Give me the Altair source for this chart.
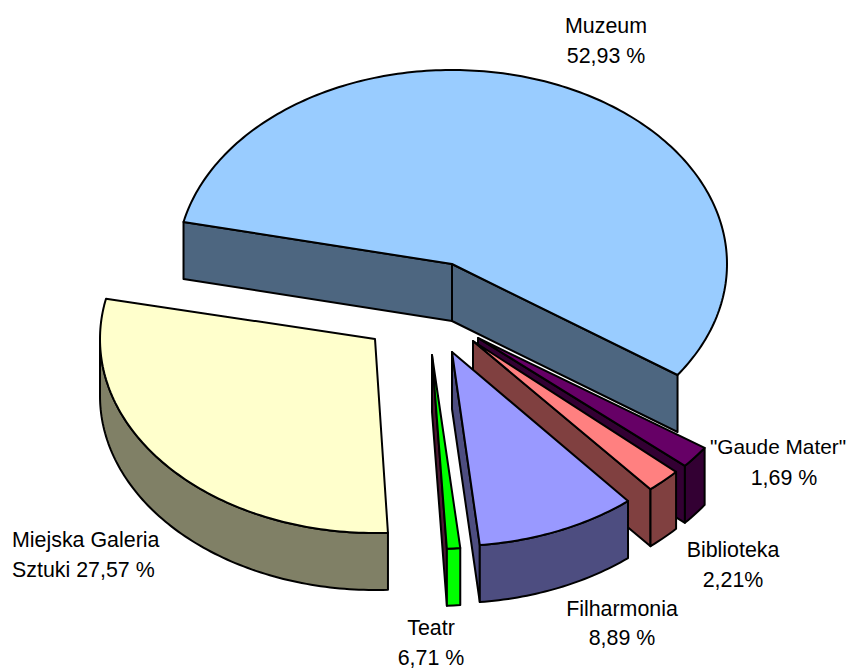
import math
import altair as alt

# slices in drawing order (back to front)
names = ["Muzeum", '"Gaude Mater"', "Biblioteka", "Filharmonia", "Galeria", "Teatr"]
start_deg = [282.5, 124.5, 132.4, 140.2, 177.3, 174.1]
end_deg = [484.9, 131.2, 139.8, 174.2, 282.0, 176.9]
apex_x = [452, 478, 473, 452, 375, 432]
apex_y = [264, 338, 341, 352, 339, 355]
top_colors = ["#99CCFF", "#660066", "#FF8080", "#9999FF", "#FFFFCC", "#00FF00"]
rim_colors = ["#4D6680", "#330033", "#804040", "#4D4D80", "#808066", "#00FF00"]
face_colors = ["#4D6680", "#330033", "#804040", "#4D4D80", "#808066", "#4D1A33"]

label_lines = [
    ["Muzeum", "52,93 %"],
    ['"Gaude Mater"', "1,69 %"],
    ["Biblioteka", "2,21%"],
    ["Filharmonia", "8,89 %"],
    ["Teatr", "6,71 %"],
]
label_x = [[606, 606], [778, 784], [733, 733], [622, 622], [431, 431]]
label_y = [[27, 57], [448, 479], [551, 581], [610, 639], [629, 658.5]]
label_size = [[21.4, 21.4], [20.8, 21.4], [21.4, 21.4], [21.4, 21.4], [21.4, 21.4]]
left_lines = ["Miejska Galeria", "Sztuki 27,57 %"]
left_x = 12
left_y = [541, 571]

RX, RY, DEPTH = 275, 194, 57


def pt(cx, cy, t, dz=0):
    a = math.radians(t)
    return [cx + RX * math.sin(a), cy - RY * math.cos(a) + dz]


def feature(ring, fill):
    ring = ring + [ring[0]]
    return {
        "type": "Feature",
        "geometry": {"type": "Polygon", "coordinates": [ring]},
        "properties": {"fill": fill},
    }


features = []
for i in range(len(names)):
    s, e, cx, cy = start_deg[i], end_deg[i], apex_x[i], apex_y[i]
    apex = [cx, cy]
    apex_low = [cx, cy + DEPTH]
    if math.sin(math.radians(s)) < 0:
        features.append(feature([apex, pt(cx, cy, s), pt(cx, cy, s, DEPTH), apex_low], face_colors[i]))
    if math.sin(math.radians(e)) > 0:
        features.append(feature([apex, pt(cx, cy, e), pt(cx, cy, e, DEPTH), apex_low], face_colors[i]))
    # outer rim: visible part lies between 90 and 270 degrees
    lo, hi = max(s, 90), min(e, 270)
    if hi > lo:
        n = max(2, int(hi - lo) + 1)
        arc = [lo + (hi - lo) * k / (n - 1) for k in range(n)]
        rim = [pt(cx, cy, t) for t in arc] + [pt(cx, cy, t, DEPTH) for t in reversed(arc)]
        features.append(feature(rim, rim_colors[i]))
    n = max(2, int(e - s) + 1)
    top = [apex] + [pt(cx, cy, s + (e - s) * k / (n - 1)) for k in range(n)]
    features.append(feature(top, top_colors[i]))

shapes = (
    alt.Chart(alt.Data(values=features))
    .mark_geoshape(stroke="black", strokeWidth=2, strokeJoin="round")
    .encode(fill=alt.Color("properties.fill:N", scale=None))
    .project(type="identity", scale=1, translate=[-8, -8])
)

rows = [
    {"t": line, "x": label_x[i][j] - 8, "y": label_y[i][j] - 8, "s": label_size[i][j]}
    for i, lines in enumerate(label_lines)
    for j, line in enumerate(lines)
]
left_rows = [{"t": left_lines[j], "x": left_x - 8, "y": left_y[j] - 8, "s": 21.4} for j in range(2)]


def text_layer(data, align):
    return (
        alt.Chart(alt.Data(values=data))
        .mark_text(font="Liberation Sans", color="black", align=align, baseline="middle")
        .encode(
            x=alt.X("x:Q", scale=None, axis=None),
            y=alt.Y("y:Q", scale=None, axis=None),
            size=alt.Size("s:Q", scale=None, legend=None),
            text="t:N",
        )
    )


chart = (
    alt.layer(shapes, text_layer(rows, "center"), text_layer(left_rows, "left"))
    .properties(width=838, height=660, padding=0, autosize=alt.AutoSizeParams(type="none"))
    .configure_view(stroke=None)
)

chart.save("out.html", embed_options={"renderer": "svg", "actions": False})
